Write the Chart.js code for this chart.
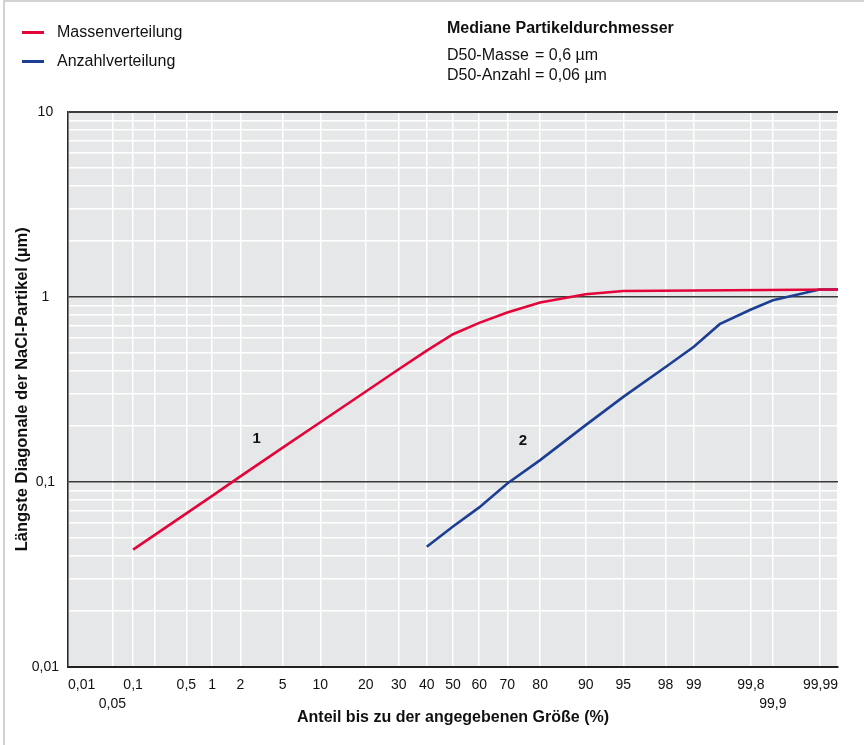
<!DOCTYPE html>
<html lang="de">
<head>
<meta charset="utf-8">
<title>Partikelgrößenverteilung NaCl</title>
<script src="https://cdn.jsdelivr.net/npm/chart.js@4/dist/chart.umd.min.js"></script>
<style>
  html, body { margin: 0; padding: 0; background: #fff; overflow: hidden; }
  #wrap { position: relative; width: 864px; height: 745px; font-family: "Liberation Sans", Arial, sans-serif; color: #111; }
  #frame { position: absolute; left: 3px; top: 0; right: -4px; bottom: -4px; border-left: 2px solid #d2d2d2; border-top: 2px solid #d2d2d2; }
  #chartBox { position: absolute; left: 0; top: 0; width: 864px; height: 745px; }
  .legend-item { position: absolute; left: 22px; font-size: 16px; line-height: 18px; }
  .legend-item span.swatch { position: absolute; left: 0; top: 8px; width: 22px; height: 3px; }
  .legend-item span.txt { position: absolute; left: 35px; top: 0; white-space: nowrap; }
  #medianBox { position: absolute; left: 447px; top: 19px; font-size: 16px; white-space: nowrap; }
  #medianBox .head { font-weight: bold; height: 18px; line-height: 18px; }
  #medianBox .row { height: 20px; line-height: 20px; }
  #medianBox .lbl { display: inline-block; width: 88px; }
</style>
</head>
<body>
<div id="wrap">
  <div id="frame"></div>
  <div id="chartBox"><canvas id="psdChart"></canvas></div>
  <div id="legend"></div>
  <div id="medianBox">
    <div class="head">Mediane Partikeldurchmesser</div>
    <div style="height:8px"></div>
    <div class="row"><span class="lbl">D50-Masse</span>= 0,6 µm</div>
    <div class="row"><span class="lbl">D50-Anzahl</span>= 0,06 µm</div>
  </div>
</div>
<script>
// Massenverteilung (Kurve 1): Anteil in %, Diagonale in µm
const massPct  = [0.1, 1, 2, 5, 10, 20, 30, 40, 50, 60, 70, 80, 90, 95, 99.99];
const massSize = [0.043, 0.084, 0.107, 0.153, 0.21, 0.308, 0.406, 0.512, 0.628, 0.724, 0.823, 0.933, 1.034, 1.077, 1.096];

// Anzahlverteilung (Kurve 2)
const countPct  = [40, 50, 60, 70, 80, 90, 95, 98, 99, 99.5, 99.8, 99.9, 99.98, 99.99];
const countSize = [0.0445, 0.0573, 0.0727, 0.098, 0.131, 0.2025, 0.288, 0.418, 0.537, 0.712, 0.855, 0.96, 1.096, 1.096];

// x axis (probability scale)
const xGridValues = [0.01, 0.05, 0.1, 0.2, 0.5, 1, 2, 5, 10, 20, 30, 40, 50, 60, 70, 80, 90, 95, 98, 99, 99.8, 99.9, 99.98, 99.99];
const xLabelValues = [0.01, 0.05, 0.1, 0.5, 1, 2, 5, 10, 20, 30, 40, 50, 60, 70, 80, 90, 95, 98, 99, 99.8, 99.9, 99.99];
const xLabels = ['0,01', '0,05', '0,1', '0,5', '1', '2', '5', '10', '20', '30', '40', '50', '60', '70', '80', '90', '95', '98', '99', '99,8', '99,9', '99,99'];
const xLowerRow = [0.05, 99.9];

// y axis (log)
const yDecades = [0.01, 0.1, 1];
const yMultipliers = [1, 2, 3, 4, 5, 6, 7, 8, 9];
const yLabelValues = [0.01, 0.1, 1, 10];
const yLabels = ['0,01', '0,1', '1', '10'];

// curve numbers
const curveTags = ['1', '2'];
const curveTagPct = [2.9, 75];
const curveTagSize = [0.17, 0.167];

const seriesNames = ['Massenverteilung', 'Anzahlverteilung'];
const seriesColors = ['#e3053a', '#1d3f93'];


function probit(p) {
    const a = [-3.969683028665376e+01, 2.209460984245205e+02, -2.759285104469687e+02, 1.383577518672690e+02, -3.066479806614716e+01, 2.506628277459239e+00];
    const b = [-5.447609879822406e+01, 1.615858368580409e+02, -1.556989798598866e+02, 6.680131188771972e+01, -1.328068155288572e+01];
    const c = [-7.784894002430293e-03, -3.223964580411365e-01, -2.400758277161838e+00, -2.549671348529585e+00, 4.374664141464968e+00, 2.938163982698783e+00];
    const d = [7.784695709041462e-03, 3.224671290700398e-01, 2.445134137142996e+00, 3.754408661907416e+00];
    const pl = 0.02425;
    let q, r;
    if (p < pl) {
        q = Math.sqrt(-2 * Math.log(p));
        return (((((c[0]*q+c[1])*q+c[2])*q+c[3])*q+c[4])*q+c[5]) / ((((d[0]*q+d[1])*q+d[2])*q+d[3])*q+1);
    }
    if (p <= 1 - pl) {
        q = p - 0.5; r = q * q;
        return (((((a[0]*r+a[1])*r+a[2])*r+a[3])*r+a[4])*r+a[5])*q / (((((b[0]*r+b[1])*r+b[2])*r+b[3])*r+b[4])*r+1);
    }
    q = Math.sqrt(-2 * Math.log(1 - p));
    return -(((((c[0]*q+c[1])*q+c[2])*q+c[3])*q+c[4])*q+c[5]) / ((((d[0]*q+d[1])*q+d[2])*q+d[3])*q+1);
}


// normal probability paper as a chart.js scale, values in percent
class ProbabilityScale extends Chart.Scale {
    determineDataLimits() {
        this.min = this.options.min;
        this.max = this.options.max;
    }
    buildTicks() {
        return this.options.gridValues.map(v => ({ value: v }));
    }
    configure() {
        super.configure();
        this._zMin = probit(this.min / 100);
        this._zMax = probit(this.max / 100);
    }
    getLabelForValue(v) {
        return String(v).replace('.', ',');
    }
    getPixelForValue(v) {
        if (v === null || v === undefined || isNaN(v)) return NaN;
        const z = probit(v / 100);
        return this.getPixelForDecimal((z - this._zMin) / (this._zMax - this._zMin));
    }
    getValueForPixel(px) {
        const t = this.getDecimalForPixel(px);
        const z = this._zMin + t * (this._zMax - this._zMin);
        let lo = 1e-9, hi = 1 - 1e-9;
        for (let i = 0; i < 60; i++) {
            const mid = (lo + hi) / 2;
            if (probit(mid) < z) lo = mid; else hi = mid;
        }
        return lo * 100;
    }
}
ProbabilityScale.id = 'probability';
ProbabilityScale.defaults = {};
Chart.register(ProbabilityScale);


const near = (a, b) => Math.abs(a - b) < 1e-9 * Math.max(1, Math.abs(b));

function yGridValues() {
    const vals = [];
    yDecades.forEach(dec => yMultipliers.forEach(m => vals.push(+(dec * m).toPrecision(6))));
    vals.push(10);
    return vals;
}

const plotBackground = {
    id: 'plotBackground',
    beforeDraw(chart) {
        const { ctx, chartArea: a } = chart;
        ctx.save();
        ctx.fillStyle = '#e6e7e9';
        ctx.fillRect(a.left, a.top, a.right - a.left, a.bottom - a.top);
        ctx.restore();
    }
};

const curveNumbers = {
    id: 'curveNumbers',
    afterDatasetsDraw(chart) {
        const { ctx, scales } = chart;
        ctx.save();
        ctx.font = 'bold 15px "Liberation Sans", Arial, sans-serif';
        ctx.fillStyle = '#111';
        ctx.textAlign = 'center';
        ctx.textBaseline = 'middle';
        curveTags.forEach((t, i) => {
            ctx.fillText(t, scales.x.getPixelForValue(curveTagPct[i]), scales.y.getPixelForValue(curveTagSize[i]));
        });
        ctx.restore();
    }
};


function buildLegend() {
    const box = document.getElementById('legend');
    seriesNames.forEach((name, i) => {
        const item = document.createElement('div');
        item.className = 'legend-item';
        item.style.top = (23 + i * 29) + 'px';
        item.innerHTML = '<span class="swatch" style="background:' + seriesColors[i] + '"></span><span class="txt">' + name + '</span>';
        box.appendChild(item);
    });
}


function drawChart() {
    const canvas = document.getElementById('psdChart');
    const toPoints = (xs, ys) => xs.map((x, i) => ({ x: x, y: ys[i] }));

    new Chart(canvas, {
        type: 'line',
        data: {
            datasets: [{
                label: seriesNames[0],
                data: toPoints(massPct, massSize),
                borderColor: seriesColors[0],
                borderWidth: 2.6,
                pointRadius: 0,
                tension: 0,
            }, {
                label: seriesNames[1],
                data: toPoints(countPct, countSize),
                borderColor: seriesColors[1],
                borderWidth: 2.6,
                pointRadius: 0,
                tension: 0,
            }]
        },
        options: {
            responsive: true,
            maintainAspectRatio: false,
            animation: false,
            layout: { padding: { left: 0, top: 112, right: 26, bottom: 0 } },
            plugins: {
                legend: { display: false },
                tooltip: { enabled: false }
            },
            scales: {
                x: {
                    type: 'probability',
                    min: 0.01,
                    max: 99.99,
                    gridValues: xGridValues,
                    afterFit: s => { s.height = 78.3; },
                    grid: {
                        z: -2,
                        color: '#ffffff',
                        lineWidth: 1.5,
                        drawTicks: false
                    },
                    border: { display: true, color: '#222', width: 2 },
                    ticks: {
                        autoSkip: false,
                        maxRotation: 0,
                        align: 'inner',
                        padding: 9,
                        color: '#111',
                        font: { family: '"Liberation Sans", Arial, sans-serif', size: 14, lineHeight: 1.36 },
                        callback: function(value) {
                            const idx = xLabelValues.findIndex(v => near(v, value));
                            if (idx < 0) return '';
                            return xLowerRow.some(v => near(v, value)) ? ['', xLabels[idx]] : xLabels[idx];
                        }
                    },
                    title: {
                        display: true,
                        text: 'Anteil bis zu der angegebenen Größe (%)',
                        color: '#111',
                        font: { family: '"Liberation Sans", Arial, sans-serif', size: 16, weight: 'bold', lineHeight: 1.2 },
                        padding: { top: 0, bottom: 18 }
                    }
                },
                y: {
                    type: 'logarithmic',
                    min: 0.01,
                    max: 10,
                    afterFit: s => { s.width = 68; },
                    afterBuildTicks: s => { s.ticks = yGridValues().map(v => ({ value: v })); },
                    grid: {
                        z: -1,
                        drawTicks: false,
                        color: c => yLabelValues.some(v => near(v, c.tick.value)) ? '#3a3a3a' : '#ffffff',
                        lineWidth: c => near(c.tick.value, 10) ? 2 : (yLabelValues.some(v => near(v, c.tick.value)) ? 1.6 : 1.5)
                    },
                    border: { display: true, color: '#2a2a2a', width: 1.6 },
                    ticks: {
                        autoSkip: false,
                        crossAlign: 'center',
                        padding: 9,
                        color: '#111',
                        font: { family: '"Liberation Sans", Arial, sans-serif', size: 14 },
                        callback: function(value) {
                            const idx = yLabelValues.findIndex(v => near(v, value));
                            return idx < 0 ? '' : yLabels[idx];
                        }
                    },
                    title: {
                        display: true,
                        text: 'Längste Diagonale der NaCl-Partikel (µm)',
                        color: '#111',
                        font: { family: '"Liberation Sans", Arial, sans-serif', size: 16.5, weight: 'bold', lineHeight: 1.2 },
                        padding: { top: 13, bottom: 0 }
                    }
                }
            }
        },
        plugins: [plotBackground, curveNumbers]
    });
}


buildLegend();
drawChart();
</script>
</body>
</html>
